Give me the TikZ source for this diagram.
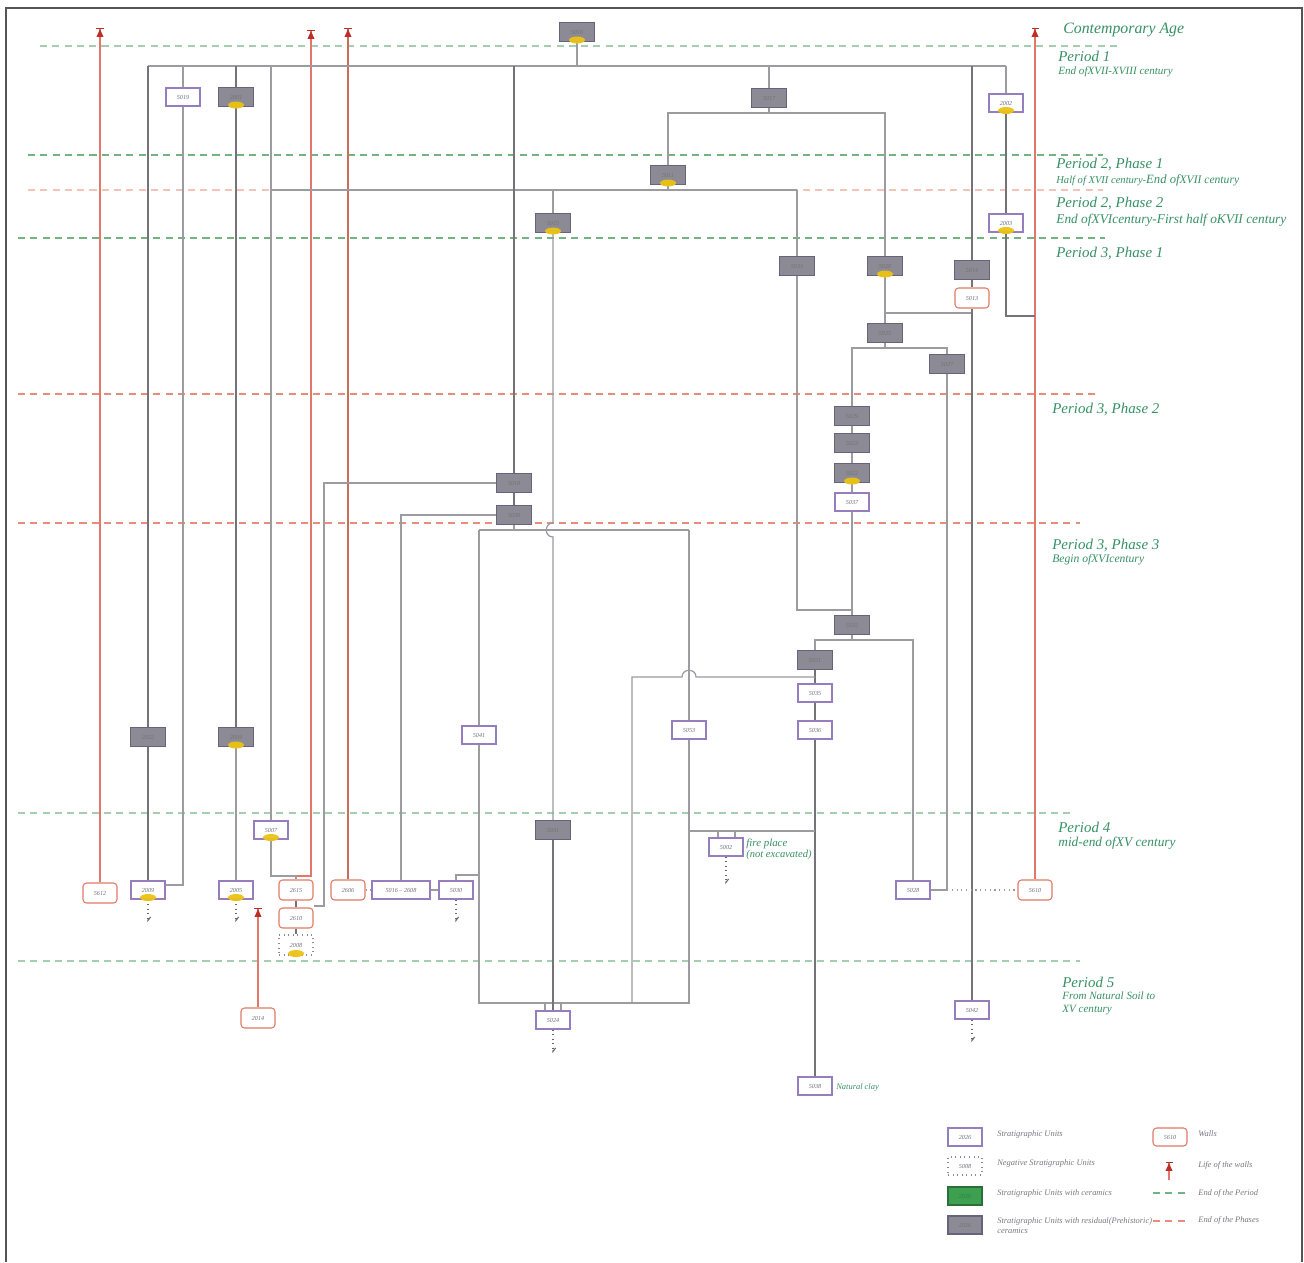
\documentclass[tikz,border=0pt]{standalone}
\usepackage{fontspec}
\setmainfont{Liberation Serif}
\usetikzlibrary{arrows.meta,calc}
\pgfdeclarelayer{back}
\pgfdeclarelayer{bg}
\pgfsetlayers{back,bg,main}
\definecolor{gfill}{RGB}{140,138,148}
\definecolor{gdraw}{RGB}{105,98,125}
\definecolor{supurple}{RGB}{150,125,190}
\definecolor{wallred}{RGB}{225,120,100}
\definecolor{lifered}{RGB}{225,120,105}
\definecolor{tipred}{RGB}{190,45,40}
\definecolor{lnkgrey}{RGB}{155,155,160}
\definecolor{lnkdark}{RGB}{115,115,120}
\definecolor{perg}{RGB}{55,145,100}
\definecolor{ymark}{RGB}{235,195,20}
\definecolor{dgreen}{RGB}{115,178,130}
\definecolor{dgreenl}{RGB}{165,205,175}
\definecolor{dred}{RGB}{230,140,120}
\definecolor{dpink}{RGB}{242,195,185}
\definecolor{lblgrey}{RGB}{110,110,120}
\definecolor{framec}{RGB}{85,85,85}
\definecolor{legg}{RGB}{60,160,80}
\definecolor{legtext}{RGB}{120,120,125}
\tikzset{
  unit/.style={minimum width=0.68cm, minimum height=0.36cm, inner sep=0pt, line width=0.6pt,
    font=\fontsize{3.5}{4}\selectfont\itshape, text=lblgrey},
  su/.style={unit, draw=supurple, fill=white},
  sug/.style={unit, draw=gdraw, fill=gfill, minimum width=0.7cm, minimum height=0.38cm, text=black!55},
  wall/.style={unit, draw=wallred, fill=white, rounded corners=2pt, minimum height=0.4cm},
  negsu/.style={unit, draw=black!45, dotted, fill=white, minimum height=0.4cm},
  lnk/.style={draw=lnkgrey, line width=0.7pt},
  lnkd/.style={draw=lnkdark, line width=0.8pt},
  life/.style={draw=lifered, line width=0.75pt, -{Triangle[length=4.5pt,width=3.8pt,color=tipred]Bar[width=4pt,line width=0.6pt,color=tipred]}},
  cont/.style={draw=black!60, dotted, line width=0.6pt, -{Straight Barb[left,length=2pt,width=3pt]}},
  gdash/.style={draw=dgreen, dash pattern=on 4pt off 3pt, line width=0.6pt},
  gdashl/.style={draw=dgreenl, dash pattern=on 4pt off 3pt, line width=0.6pt},
  rdash/.style={draw=dred, dash pattern=on 4pt off 3pt, line width=0.6pt},
  rdashl/.style={draw=dpink, dash pattern=on 4pt off 3pt, line width=0.6pt},
  phead/.style={text=perg, inner sep=0pt, anchor=base west, font=\fontsize{8.5}{10}\selectfont\itshape},
  psub/.style={text=perg, inner sep=0pt, anchor=base west, font=\fontsize{6.5}{7}\selectfont\itshape},
  legt/.style={text=legtext, inner sep=0pt, anchor=base west, font=\fontsize{4.8}{5.5}\selectfont\itshape, align=left},
}
\newcommand{\ym}[1]{\fill[ymark, opacity=0.95] ($(#1.south)+(0,-2)$) ellipse [x radius=0.16cm, y radius=0.07cm];}
\begin{document}
\begin{tikzpicture}[x=0.02cm, y=-0.02cm]
\useasboundingbox (0,0) rectangle (1304,1262);
\begin{pgfonlayer}{back}
\fill[white] (0,0) rectangle (1304,1262);
\end{pgfonlayer}
\draw[framec, line width=1.2pt] (6,1262) -- (6,8) -- (1302,8) -- (1302,1262);

% ---------- nodes ----------
\node[sug] (n5016) at (577,32) {5016};
\node[su]  (n5019) at (183,97) {5019};
\node[sug] (n2001) at (236,97) {2001};
\node[sug] (n5017) at (769,98) {5017};
\node[su]  (n2002) at (1006,103) {2002};
\node[sug] (n5011) at (668,175) {5011};
\node[sug] (n5015) at (553,223) {5015};
\node[su]  (n2003) at (1006,223) {2003};
\node[sug] (n5033) at (797,266) {5033};
\node[sug] (n5020) at (885,266) {5020};
\node[sug] (n5014) at (972,270) {5014};
\node[wall] (n5013) at (972,298) {5013};
\node[sug] (n5025) at (885,333) {5025};
\node[sug] (n5027) at (947,364) {5027};
\node[sug] (n5029) at (852,416) {5029};
\node[sug] (n5023) at (852,443) {5023};
\node[sug] (n5022) at (852,473) {5022};
\node[su]  (n5037) at (852,502) {5037};
\node[sug] (n5018) at (514,483) {5018};
\node[sug] (n5039) at (514,515) {5039};
\node[sug] (n5032) at (852,625) {5032};
\node[sug] (n5021) at (815,660) {5021};
\node[su]  (n5035) at (815,693) {5035};
\node[su]  (n5036) at (815,730) {5036};
\node[su]  (n5041) at (479,735) {5041};
\node[su]  (n5053) at (689,730) {5053};
\node[sug] (n2022) at (148,737) {2022};
\node[sug] (n2004) at (236,737) {2004};
\node[su]  (n5007) at (271,830) {5007};
\node[sug] (n5031) at (553,830) {5031};
\node[su]  (n5002) at (726,847) {5002};
\node[wall] (n5612) at (100,893) {5612};
\node[su]  (n2009) at (148,890) {2009};
\node[su]  (n2005) at (236,890) {2005};
\node[wall] (n2615) at (296,890) {2615};
\node[wall] (n2610) at (296,918) {2610};
\node[negsu] (n2008) at (296,945) {2008};
\node[wall] (n2606) at (348,890) {2606};
\node[su, minimum width=1.16cm] (n5016b) at (401,890) {5016 -- 2608};
\node[su]  (n5030) at (456,890) {5030};
\node[su]  (n5028) at (913,890) {5028};
\node[wall] (n5610) at (1035,890) {5610};
\node[wall] (n2014) at (258,1018) {2014};
\node[su]  (n5024) at (553,1020) {5024};
\node[su]  (n5042) at (972,1010) {5042};
\node[su]  (n5038) at (815,1086) {5038};

\foreach \n in {n5016,n2001,n2002,n5011,n5015,n2003,n5020,n5022,n2004,n5007,n2009,n2005,n2008} {\ym{\n}}

% ---------- text ----------
\node[phead, font=\fontsize{9}{10}\selectfont\itshape] (tca) at (1063,33) {Contemporary Age};
\node[phead] (tp1) at (1058,61) {Period 1};
\node[psub, font=\fontsize{6.3}{7}\selectfont\itshape] (tp1s) at (1058,74) {End ofXVII-XVIII century};
\node[phead] (tp21) at (1056,168) {Period 2, Phase 1};
\node[psub, font=\fontsize{7.2}{8}\selectfont\itshape] (tp21s) at (1056,183) {{\fontsize{6}{7}\selectfont Half of XVII century-}End of{\fontsize{6.6}{7}\selectfont XVII century}};
\node[phead] (tp22) at (1056,207) {Period 2, Phase 2};
\node[psub, font=\fontsize{7.6}{8}\selectfont\itshape] (tp22s) at (1056,223) {End ofXVIcentury-First half oKVII century};
\node[phead] (tp31) at (1056,257) {Period 3, Phase 1};
\node[phead] (tp32) at (1052,413) {Period 3, Phase 2};
\node[phead] (tp33) at (1052,549) {Period 3, Phase 3};
\node[psub, font=\fontsize{6.6}{7}\selectfont\itshape] (tp33s) at (1052,562) {Begin ofXVIcentury};
\node[phead] (tp4) at (1058,832) {Period 4};
\node[psub, font=\fontsize{7.6}{8}\selectfont\itshape] (tp4s) at (1058,846) {mid-end ofXV century};
\node[phead] (tp5) at (1062,987) {Period 5};
\node[psub, font=\fontsize{6.3}{7}\selectfont\itshape] (tp5s) at (1062,999) {From Natural Soil to};
\node[psub, font=\fontsize{6.3}{7}\selectfont\itshape] (tp5t) at (1062,1012) {XV century};
\node[psub, font=\fontsize{6.2}{7}\selectfont\itshape] (tfire) at (746,846) {fire place};
\node[psub, font=\fontsize{6}{7}\selectfont\itshape] (tfire2) at (746,857) {(not excavated)};
\node[psub, font=\fontsize{4.8}{6}\selectfont\itshape] (tclay) at (836,1089) {Natural clay};

% ---------- legend ----------
\node[su] (l1) at (965,1137) {2026};
\node[legt] (l1t) at (997,1136) {Stratigraphic Units};
\node[negsu, minimum height=0.36cm] (l2) at (965,1166) {5008};
\node[legt] (l2t) at (997,1165) {Negative Stratigraphic Units};
\node[unit, draw=legg!70!black, fill=legg, text=legg!80!black] (l3) at (965,1196) {2026};
\node[legt] (l3t) at (997,1195) {Stratigraphic Units with ceramics};
\node[sug, minimum width=0.68cm, minimum height=0.36cm] (l4) at (965,1225) {2026};
\node[legt] (l4t) at (997,1223) {Stratigraphic Units with residual(Prehistoric)};
\node[legt] (l4u) at (997,1233) {ceramics};
\node[wall, minimum height=0.36cm] (l5) at (1170,1137) {5610};
\node[legt] (l5t) at (1198,1136) {Walls};
\coordinate (l6a) at (1169,1180);
\coordinate (l6b) at (1169,1162);
\draw[life] (l6a) -- (l6b);
\node[legt] (l6t) at (1198,1167) {Life of the walls};
\draw[gdash, draw=dgreen] (1153,1193) -- (1188,1193);
\node[legt] (l7t) at (1198,1195) {End of the Period};
\draw[rdash] (1153,1221) -- (1188,1221);
\node[legt] (l8t) at (1198,1222) {End of the Phases};

% ---------- background lines ----------
\begin{pgfonlayer}{bg}
\draw[gdashl] (40,46) -- (1117,46);
\draw[gdash] (28,155) -- (1103,155);
\draw[rdashl] (28,190) -- (1103,190);
\draw[gdash] (18,238) -- (1105,238);
\draw[rdash] (18,394) -- (1095,394);
\draw[rdash] (18,523) -- (1080,523);
\draw[gdashl] (18,813) -- (1070,813);
\draw[gdashl] (18,961) -- (1080,961);

% wall lives
\coordinate (a100) at (100,28);
\coordinate (a311) at (311,30);
\coordinate (a348) at (348,28);
\coordinate (a1035) at (1035,28);
\coordinate (a258) at (258,908);
\coordinate (k296) at (296,876);
\draw[life] (n5612.north) -- (a100);
\draw[life, draw=wallred!90!black] (n2606.north) -- (a348);
\draw[life] (n5610.north) -- (a1035);
\draw[life] (n2014.north) -- (a258);
\draw[life] (n2615.north) -- (k296) -| (a311);

% top bus
\coordinate (yT) at (0,66);
\draw[lnk] (n2022 |- yT) -- (n2002 |- yT);
\draw[lnk] (n5016.south) -- (n5016 |- yT);
\draw[lnkd] (n2022 |- yT) -- (n2022.north);
\draw[lnkd] (n2022.south) -- (n2009.north);
\draw[lnk] (n5019 |- yT) -- (n5019.north);
\coordinate (k183) at (183,885);
\draw[lnk] (n5019.south) -- (k183) -- (k183 -| n2009.east);
\draw[lnkd] (n2001 |- yT) -- (n2001.north);
\draw[lnkd] (n2001.south) -- (n2004.north);
\draw[lnk] (n2004.south) -- (n2005.north);
\draw[lnk] (n5007 |- yT) -- (n5007.north);
\coordinate (h190) at (0,190);
\draw[lnk] (n5007 |- h190) -- (n5033 |- h190);
\draw[lnk] (n5011.south) -- (n5011 |- h190);
\draw[lnk] (n5015 |- h190) -- (n5015.north);
\draw[lnk] (n5033 |- h190) -- (n5033.north);
\draw[lnk] (n5007.south) |- (k296) -- (n2615.north);
\coordinate (k324) at (324,906);
\draw[lnk] (n5018.west) -| (k324) -- (k324 -| n2610.east);
\draw[lnkd] (n2615.south) -- (n2610.north);
\draw[lnkd] (n2610.south) -- (n2008.north);
\draw[lnk] (n5039.west) -| (n5016b.north);
\draw[lnk, dotted] (n2606.east) -- (n5016b.west);
\draw[lnk] (n5016b.east) -- (n5030.west);
\coordinate (k479) at (479,875);
\draw[lnk] (n5030.north) |- (k479);
\coordinate (h530) at (0,530);
\coordinate (h1003) at (0,1003);
\draw[lnkd] (n5018 |- yT) -- (n5018.north);
\draw[lnkd] (n5018.south) -- (n5039.north);
\draw[lnk] (n5039.south) -- (n5039 |- h530);
\draw[lnk] (n5041 |- h530) -- (n5053 |- h530);
\draw[lnk] (n5041 |- h530) -- (n5041.north);
\draw[lnk] (n5041.south) -- (n5041 |- h1003) -- (n5053 |- h1003) -- (n5053.south);
\draw[lnk] (n5053 |- h530) -- (n5053.north);
\draw[lnk] ($(n5024.north)+(-8,0)$) -- ($(n5024.north |- h1003)+(-8,0)$);
\draw[lnk] ($(n5024.north)+(8,0)$) -- ($(n5024.north |- h1003)+(8,0)$);
\draw[lnk] (n5015.south) -- ($(n5015 |- h530)+(0,-7)$) .. controls +(-9,0) and +(-9,0) .. ($(n5015 |- h530)+(0,7)$) -- (n5031.north);
\draw[lnkd] (n5031.south) -- (n5024.north);

\draw[lnk] (n5017 |- yT) -- (n5017.north);
\coordinate (h113) at (0,113);
\draw[lnk] (n5017.south) -- (n5017 |- h113);
\draw[lnk] (n5011.north) |- (n5020 |- h113) -- (n5020.north);
\draw[lnk] (n5020.south) -- (n5025.north);
\coordinate (h313) at (0,313);
\draw[lnk] (n5025 |- h313) -- (n5014 |- h313);
\draw[lnkd] (n5014 |- yT) -- (n5014.north);
\draw[lnkd] (n5014.south) -- (n5013.north);
\draw[lnkd] (n5013.south) -- (n5042.north);
\coordinate (h348) at (0,348);
\draw[lnk] (n5025.south) -- (n5025 |- h348);
\draw[lnk] (n5029.north) |- (n5027 |- h348) -- (n5027.north);
\draw[lnk] (n5029) -- (n5023) -- (n5022) -- (n5037) -- (n5032);
\coordinate (h610) at (0,610);
\draw[lnk] (n5033.south) |- (n5032 |- h610);
\coordinate (h640) at (0,640);
\draw[lnk] (n5032.south) -- (n5032 |- h640);
\draw[lnk] (n5021.north) |- (n5028 |- h640) -- (n5028.north);
\draw[lnkd] (n5021) -- (n5035) -- (n5036) -- (n5038);
\coordinate (h677) at (0,677);
\coordinate (x632) at (632,0);
\draw[lnk] (n5021 |- h677) -- ($(n5053 |- h677)+(7,0)$) .. controls +(0,-9) and +(0,-9) .. ($(n5053 |- h677)+(-7,0)$) -- (x632 |- h677) -- (x632 |- h1003);
\coordinate (h831) at (0,831);
\draw[lnk] (n5053 |- h831) -- (n5036 |- h831);
\draw[lnk] ($(n5002.north)+(-8,0)$) -- ($(n5002.north |- h831)+(-8,0)$);
\draw[lnk] ($(n5002.north)+(9,0)$) -- ($(n5002.north |- h831)+(9,0)$);
\draw[lnk] (n5027.south) |- (n5028.east);
\draw[lnk, dotted] (n5027 |- n5028) -- (n5610.west);
\draw[lnk] (n2002 |- yT) -- (n2002.north);
\draw[lnkd] (n2002.south) -- (n2003.north);
\coordinate (k1035) at (1035,316);
\draw[lnkd] (n2003.south) |- (k1035);

% continuations
\coordinate (e2009) at (148,922);
\coordinate (e2005) at (236,922);
\coordinate (e5030) at (456,922);
\coordinate (e5002) at (726,884);
\coordinate (e5024) at (553,1053);
\coordinate (e5042) at (972,1042);
\draw[cont] (n2009.south) -- (e2009);
\draw[cont] (n2005.south) -- (e2005);
\draw[cont] (n5030.south) -- (e5030);
\draw[cont] (n5002.south) -- (e5002);
\draw[cont] (n5024.south) -- (e5024);
\draw[cont] (n5042.south) -- (e5042);
\end{pgfonlayer}
\end{tikzpicture}
\end{document}
